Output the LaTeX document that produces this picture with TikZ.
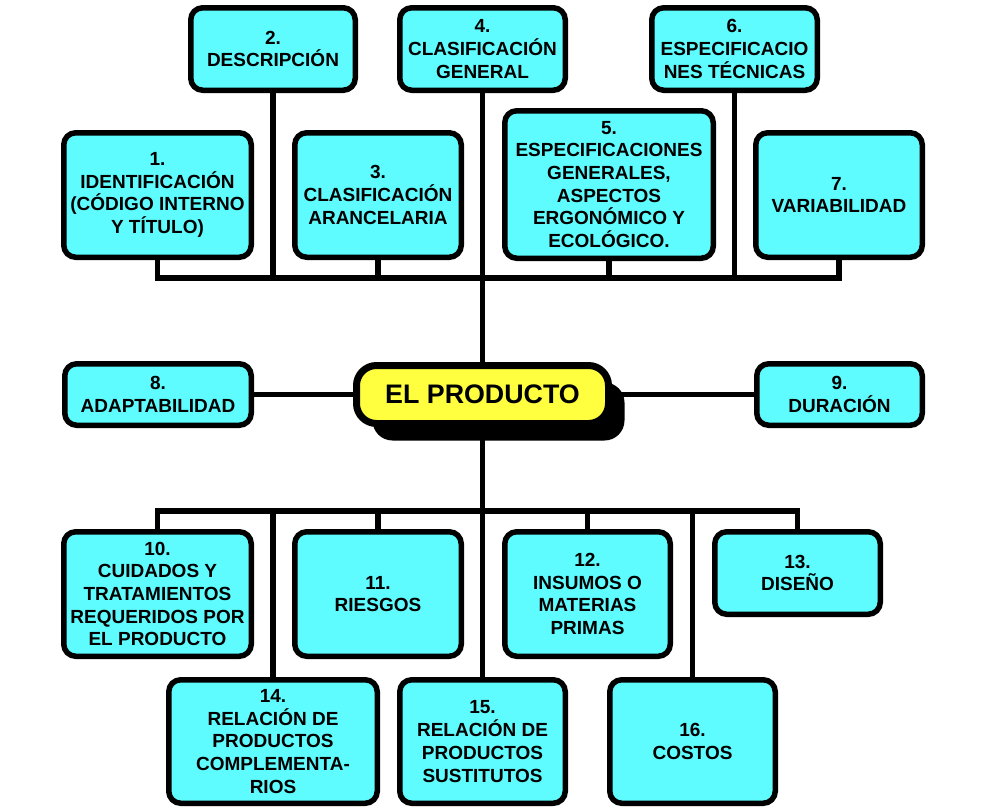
\documentclass[tikz,border=0pt]{standalone}
\usepackage{fontspec}
\setmainfont{Liberation Sans}
\usetikzlibrary{shadows,backgrounds}
\definecolor{cyanbox}{RGB}{94,252,255}
\definecolor{yellowbox}{RGB}{255,255,64}
\tikzset{
  box/.style={draw=black, line width=5.5pt, fill=cyanbox, rounded corners=12pt,
    inner sep=0pt, align=center, font=\bfseries\fontsize{19}{22.7}\selectfont},
  centerbox/.style={draw=black, line width=7pt, fill=yellowbox, rounded corners=20pt,
    inner sep=0pt, align=center, font=\bfseries\fontsize{26.8}{30}\selectfont,
    drop shadow={shadow xshift=16pt, shadow yshift=-17pt, opacity=1, fill=black}},
  conn/.style={draw=black, line width=5.3pt, line join=miter}
}
\begin{document}
\begin{tikzpicture}[x=1pt,y=1pt]
\useasboundingbox (0,0) rectangle (985,-809);
% upper row
\node[box, minimum width=164.5pt, minimum height=82.5pt] (b2) at (273,-49) {2.\\DESCRIPCIÓN};
\node[box, minimum width=165.5pt, minimum height=82.5pt] (b4) at (482.5,-49) {4.\\CLASIFICACIÓN\\GENERAL};
\node[box, minimum width=165.5pt, minimum height=82.5pt] (b6) at (734.5,-49) {6.\\ESPECIFICACIO\\NES TÉCNICAS};
\node[box, minimum width=187.5pt, minimum height=124.5pt] (b1) at (157.5,-195) {1.\\IDENTIFICACIÓN\\(CÓDIGO INTERNO\\Y TÍTULO)};
\node[box, minimum width=166.5pt, minimum height=124.5pt] (b3) at (378,-195) {3.\\CLASIFICACIÓN\\ARANCELARIA};
\node[box, minimum width=208.5pt, minimum height=147.5pt] (b5) at (609,-184.5) {5.\\ESPECIFICACIONES\\GENERALES,\\ASPECTOS\\ERGONÓMICO Y\\ECOLÓGICO.};
\node[box, minimum width=166.5pt, minimum height=124.5pt] (b7) at (839,-195) {7.\\VARIABILIDAD};
% middle row
\node[box, minimum width=186.5pt, minimum height=61.5pt] (b8) at (158,-394.5) {8.\\ADAPTABILIDAD};
\node[centerbox, minimum width=252pt, minimum height=58pt] (el) at (482.5,-394.5) {EL PRODUCTO};
\node[box, minimum width=165.5pt, minimum height=61.5pt] (b9) at (839.5,-394.5) {9.\\DURACIÓN};
% lower rows
\node[box, minimum width=187.5pt, minimum height=124.5pt] (b10) at (157.5,-594) {10.\\CUIDADOS Y\\TRATAMIENTOS\\REQUERIDOS POR\\EL PRODUCTO};
\node[box, minimum width=166.5pt, minimum height=124.5pt] (b11) at (378,-594) {11.\\RIESGOS};
\node[box, minimum width=165.5pt, minimum height=124.5pt] (b12) at (587.5,-594) {12.\\INSUMOS O\\MATERIAS\\PRIMAS};
\node[box, minimum width=165.5pt, minimum height=82.5pt] (b13) at (797.5,-573) {13.\\DISEÑO};
\node[box, minimum width=208.5pt, minimum height=123.5pt] (b14) at (273,-741.5) {14.\\RELACIÓN DE\\PRODUCTOS\\COMPLEMENTA-\\RIOS};
\node[box, minimum width=165.5pt, minimum height=123.5pt] (b15) at (482.5,-741.5) {15.\\RELACIÓN DE\\PRODUCTOS\\SUSTITUTOS};
\node[box, minimum width=165.5pt, minimum height=123.5pt] (b16) at (692.5,-741.5) {16.\\COSTOS};
% connectors
\coordinate (ub) at (482.5,-278);
\coordinate (lb) at (482.5,-511);
\begin{scope}[on background layer]
\fill[white] (0,0) rectangle (985,-809);
\draw[conn] (b1.south) |- (ub) -| (b7.south);
\draw[conn] (b2.south) -- (b2.south |- ub);
\draw[conn] (b3.south) -- (b3.south |- ub);
\draw[conn] (b5.south) -- (b5.south |- ub);
\draw[conn] (b6.south) -- (b6.south |- ub);
\draw[conn] (b4.south) -- (el.north);
\draw[conn] (b8.east) -- (b8.east -| el.west);
\draw[conn] (el.east) -- (el.east -| b9.west);
\draw[conn] (el.south) -- (lb);
\draw[conn] (b10.north) |- (lb) -| (b13.north);
\draw[conn] (b14.north) -- (b14.north |- lb);
\draw[conn] (b11.north) -- (b11.north |- lb);
\draw[conn] (b15.north) -- (b15.north |- lb);
\draw[conn] (b12.north) -- (b12.north |- lb);
\draw[conn] (b16.north) -- (b16.north |- lb);
\end{scope}
\end{tikzpicture}
\end{document}
